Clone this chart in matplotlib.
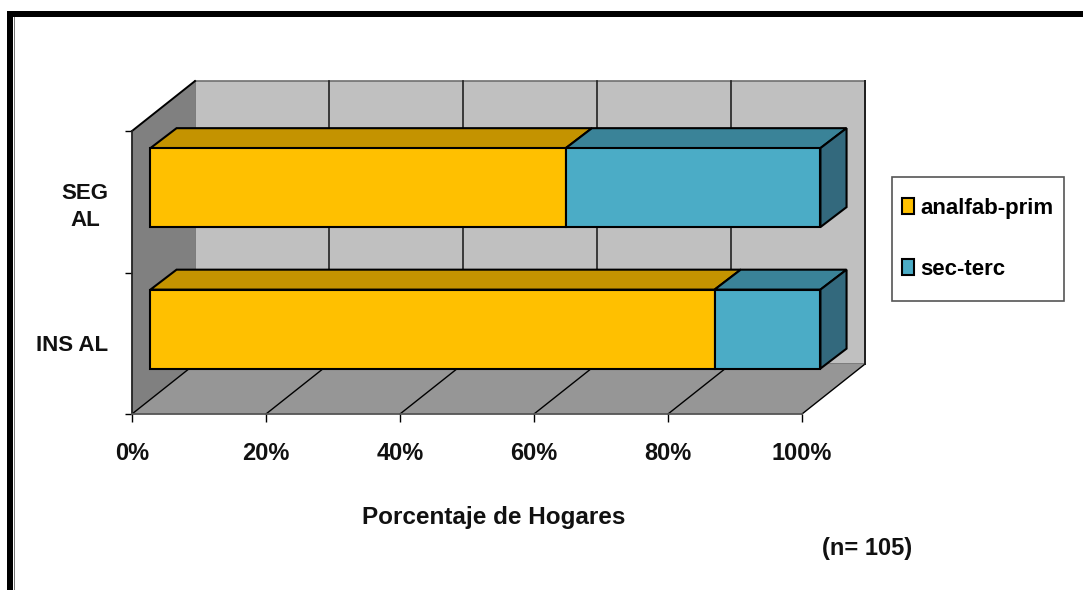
import matplotlib
matplotlib.use('Agg')
from matplotlib import pyplot as plt
from matplotlib.patches import Polygon, Patch, Rectangle

categories = ['INS AL', 'SEG\nAL']
analfab_prim = [84.2, 62]
sec_terc = [15.8, 38]
series_names = ['analfab-prim', 'sec-terc']
x_ticks = [0, 20, 40, 60, 80, 100]
x_labels = ['0%', '20%', '40%', '60%', '80%', '100%']

W, H = 1083, 590
plt.rcParams['font.family'] = ['Liberation Sans', 'DejaVu Sans']
plt.rcParams['font.weight'] = 'bold'

fig = plt.figure(figsize=(W / 100, H / 100), dpi=100, facecolor='white')
# front plane of the 3d box, in pixels of the picture
ax = fig.add_axes([132 / W, 1 - 414 / H, 670 / W, 283 / H], facecolor='none')
ax.set_xlim(0, 100)
ax.set_ylim(0, 2)

# depth of the box and of the bars, in data units
DX, DY = 9.4, 0.353
BAR_DX, BAR_DY = 3.9, 0.141
SHIFT_X, SHIFT_Y = 2.75, 0.1
BAR_H = 0.558


def poly(pts, fc, ec='black', lw=1.5, z=2):
    ax.add_patch(Polygon(pts, closed=True, facecolor=fc, edgecolor=ec, linewidth=lw,
                         zorder=z, clip_on=False, joinstyle='miter'))


# walls and floor
poly([(DX, DY), (100 + DX, DY), (100 + DX, 2 + DY), (DX, 2 + DY)], '#C0C0C0', '#707070', 1.2, 1)
poly([(0, 0), (DX, DY), (DX, 2 + DY), (0, 2)], '#808080', 'none', 0, 1)
poly([(0, 0), (100, 0), (100 + DX, DY), (DX, DY)], '#969696', 'none', 0, 1)
ax.plot([0, DX], [2, 2 + DY], color='black', lw=1.4, zorder=1.5, clip_on=False)
ax.plot([100 + DX, 100 + DX], [DY, 2 + DY], color='#222222', lw=1.4, zorder=1.5, clip_on=False)
for t in x_ticks:
    ax.plot([t, t + DX], [0, DY], color='black', lw=1, zorder=1.5, clip_on=False)
    if 0 < t:
        ax.plot([t + DX, t + DX], [DY, 2 + DY], color='#222222', lw=1.2, zorder=1.5, clip_on=False)

# bars, bottom one drawn first
for i in range(len(categories)):
    y0 = i + 0.5 - BAR_H / 2 + SHIFT_Y
    y1 = y0 + BAR_H
    split = analfab_prim[i] + SHIFT_X
    end = analfab_prim[i] + sec_terc[i] + SHIFT_X
    start = SHIFT_X
    poly([(start, y1), (split, y1), (split + BAR_DX, y1 + BAR_DY), (start + BAR_DX, y1 + BAR_DY)], '#C49300', z=3)
    poly([(split, y1), (end, y1), (end + BAR_DX, y1 + BAR_DY), (split + BAR_DX, y1 + BAR_DY)], '#3A8398', z=3)
    poly([(end, y0), (end + BAR_DX, y0 + BAR_DY), (end + BAR_DX, y1 + BAR_DY), (end, y1)], '#33697D', z=3)
    ax.barh(i + 0.5 + SHIFT_Y, analfab_prim[i], height=BAR_H, left=SHIFT_X, color='#FFC000',
            edgecolor='black', linewidth=1.5, zorder=4, clip_on=False)
    ax.barh(i + 0.5 + SHIFT_Y, sec_terc[i], height=BAR_H, left=split, color='#4BACC6',
            edgecolor='black', linewidth=1.5, zorder=4, clip_on=False)

for s in ['top', 'right']:
    ax.spines[s].set_visible(False)
ax.spines['left'].set_color('#222222')
ax.spines['bottom'].set_color('#555555')
ax.spines['left'].set_linewidth(1.3)
ax.spines['bottom'].set_linewidth(1.3)

ax.set_xticks(x_ticks)
ax.set_xticklabels(x_labels, fontsize=17, fontweight='bold', color='#111111')
ax.tick_params(axis='x', length=6, width=1, pad=14.5)
ax.set_yticks([0, 1, 2])
ax.set_yticklabels([])
ax.tick_params(axis='y', length=5, width=1)
ax.set_yticks([0.5, 1.5], minor=True)
ax.set_yticklabels(categories, minor=True, fontsize=16, fontweight='bold', color='#111111',
                   multialignment='center', linespacing=1.35)
ax.tick_params(axis='y', which='minor', length=0, pad=17)
ax.set_xlabel('Porcentaje de Hogares', fontsize=17.5, fontweight='bold', color='#111111',
              labelpad=29, x=0.54)

# legend frame is its own box, the entries are spaced wider than the side margins
fig.add_artist(Rectangle((892 / W, 1 - 301 / H), 172 / W, 124 / H, transform=fig.transFigure,
                         facecolor='white', edgecolor='#555555', linewidth=1.2))
handles = [Patch(facecolor='#FFC000', edgecolor='black', linewidth=1.5),
           Patch(facecolor='#4BACC6', edgecolor='black', linewidth=1.5)]
leg = fig.legend(handles, series_names, loc='center left', bbox_to_anchor=(902 / W, 1 - 239 / H),
                 fontsize=16, frameon=False, handlelength=0.55, handleheight=0.7, handletextpad=0.28,
                 labelspacing=1.8, borderpad=0, borderaxespad=0)

fig.text(867 / W, 1 - 549 / H, '(n= 105)', fontsize=17, fontweight='bold', color='#111111',
         ha='center', va='center')

# black frame on top and left of the picture
fig.add_artist(Rectangle((7 / W, 1 - 17 / H), (W - 7) / W, 6 / H, transform=fig.transFigure,
                         facecolor='black', edgecolor='none'))
fig.add_artist(Rectangle((7 / W, 0), 6 / W, 1 - 11 / H, transform=fig.transFigure,
                         facecolor='black', edgecolor='none'))
fig.add_artist(Rectangle((14 / W, 0), 1.2 / W, 1 - 17 / H, transform=fig.transFigure,
                         facecolor='#777777', edgecolor='none'))

fig.savefig('out.png', dpi=100)
